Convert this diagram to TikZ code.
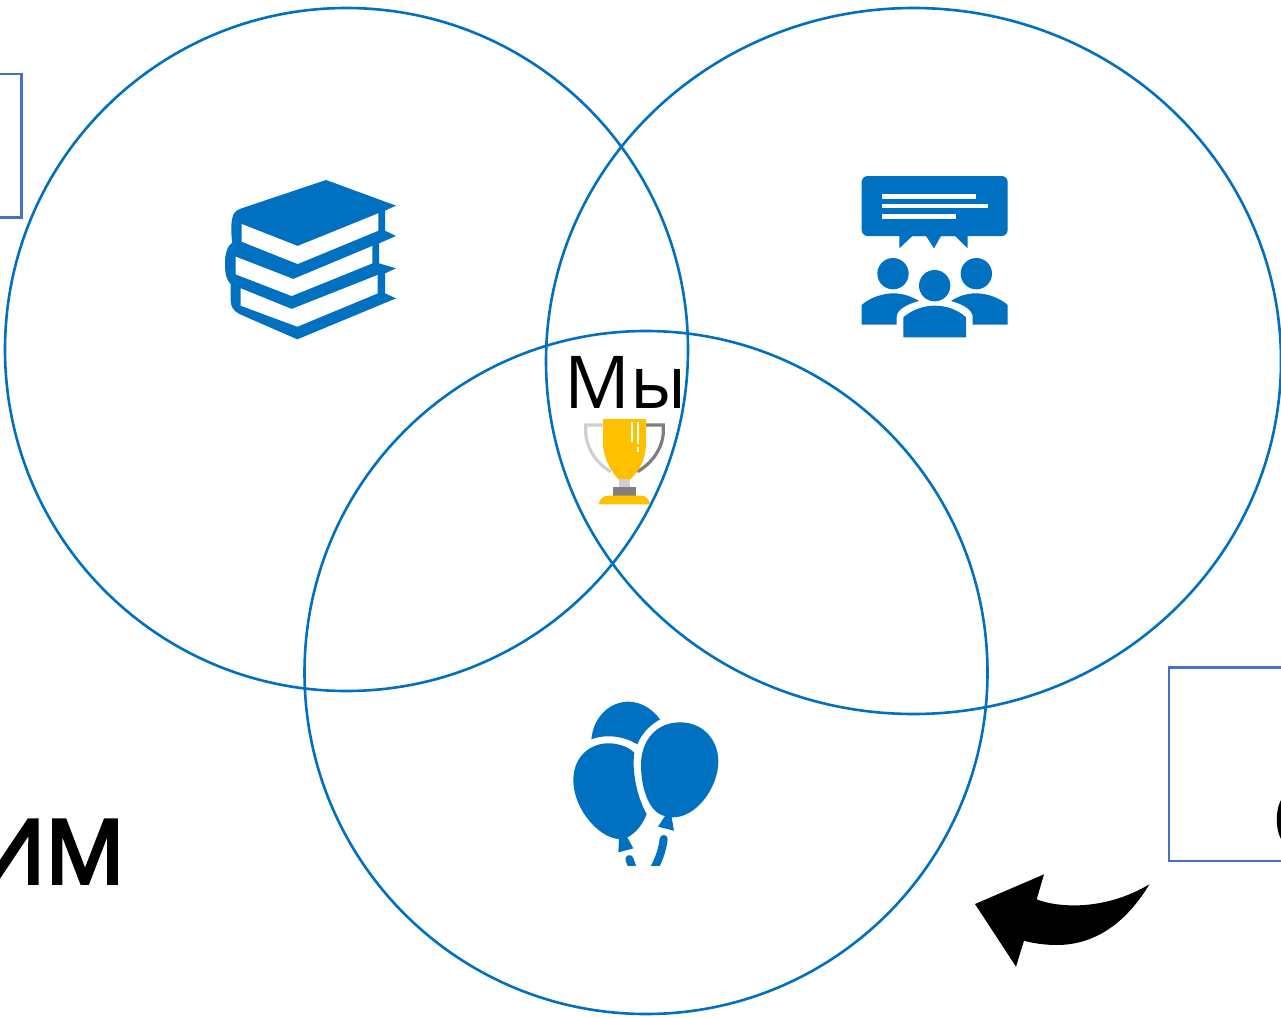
\documentclass[tikz,border=0pt]{standalone}
\usepackage{fontspec}
\setmainfont{Open Sans}
\newfontfamily\heavyword[FakeBold=4]{Open Sans}
\definecolor{vennblue}{HTML}{0070C0}
\definecolor{boxblue}{HTML}{4472C4}
\definecolor{cupgold}{HTML}{FFC000}
\definecolor{lightgr}{HTML}{D0D0D0}
\definecolor{darkgr}{HTML}{7F7F7F}
\tikzset{
 vennring/.style={draw=vennblue,line width=2.6pt,fill=none},
 framebox/.style={draw=boxblue,line width=2.8pt,fill=none},
 iconfill/.style={fill=vennblue,draw=none},
 whitefill/.style={fill=white,draw=none},
 zoomA/.style={shift={(200,160)},scale=1/3},
 zoomB/.style={shift={(840,160)},scale=1/3},
 zoomC/.style={shift={(540,330)},scale=1/3},
 zoomD/.style={shift={(550,690)},scale=1/3},
 zoomE/.style={shift={(960,650)},scale=1/3},
 bigtext/.style={inner sep=0pt,font=\fontsize{88pt}{88pt}\heavyword,text=black},
 weare/.style={inner sep=0pt,font=\fontsize{73pt}{73pt}\selectfont,text=black}
}
\begin{document}
\begin{tikzpicture}[x=1pt,y=-1pt]
\path[use as bounding box] (0,0) rectangle (1281,1017);
\clip (0,0) rectangle (1281,1017);
\fill[white] (0,0) rectangle (1281,1017);

% frames cut by the picture edge
\draw[framebox] (-40,74) rectangle (21.5,217.5);
\draw[framebox] (1169,667.5) rectangle (1340,861);

% rings
\draw[vennring] (346.5,349.5) ellipse [x radius=341.5,y radius=341.5];
\draw[vennring] (913.5,361) ellipse [x radius=367.5,y radius=353];
\draw[vennring] (646,672.5) ellipse [x radius=341.5,y radius=341.5];

% books
\begin{scope}[zoomA]
\fill[iconfill] (378,60) -- (588,137) -- (555,152) -- (555,212) -- (588,228) -- (537,250) -- (537,310) -- (588,325) -- (555,340) -- (555,400) -- (588,415) -- (292,538) -- (118,462)
  .. controls (100,452) and (92,440) .. (92,420) -- (92,372) .. controls (80,360) and (75,345) .. (75,310) .. controls (75,280) and (82,258) .. (97,248) .. controls (92,215) and (92,180) .. (102,160) .. controls (108,152) and (115,148) .. (125,145) -- cycle;
\fill[whitefill] (125,192) -- (293,258) -- (535,160) -- (535,212) -- (293,312) -- (125,245) -- cycle;
\fill[whitefill] (107,290) -- (280,357) -- (517,258) -- (517,310) -- (275,408) -- (107,343) -- cycle;
\fill[whitefill] (122,385) -- (275,447) -- (533,345) -- (533,400) -- (292,500) -- (122,437) -- cycle;
\end{scope}

% speech and people
\begin{scope}[zoomB]
\fill[iconfill] (178,220) -- (178,265) -- (217,228) -- (258,228) -- (282,265) -- (303,228) -- (345,228) -- (383,265) -- (383,220) -- cycle;
\fill[iconfill,rounded corners=6pt] (65,48) rectangle (503,228);
\fill[whitefill] (125,102) rectangle (408,116);
\fill[whitefill] (125,133) rectangle (444,145);
\fill[whitefill] (125,163) rectangle (348,176);
\fill[iconfill] (159,341) circle [radius=47];
\fill[iconfill] (284,377) circle [radius=47];
\fill[iconfill] (409,341) circle [radius=47];
\fill[iconfill] (65,494) -- (65,435) .. controls (90,412) and (130,400) .. (160,400) .. controls (190,400) and (215,410) .. (237,423) .. controls (200,432) and (170,450) .. (170,470) -- (170,494) -- cycle;
\fill[iconfill] (503,494) -- (503,435) .. controls (478,412) and (438,400) .. (408,400) .. controls (378,400) and (353,410) .. (333,423) .. controls (368,432) and (398,450) .. (398,470) -- (398,494) -- cycle;
\fill[iconfill] (190,532) -- (190,472) .. controls (215,450) and (250,437) .. (284,437) .. controls (320,437) and (355,450) .. (378,472) -- (378,532) -- cycle;
\end{scope}

% trophy
\begin{scope}[zoomC]
\draw[lightgr,line width=3.2pt] (195,285) -- (137,285) -- (137,310) .. controls (142,360) and (170,400) .. (212,425);
\draw[darkgr,line width=3.2pt] (312,285) -- (370,285) -- (370,310) .. controls (365,360) and (335,400) .. (292,425);
\fill[lightgr] (237,445) rectangle (270,472);
\fill[darkgr] (218,472) rectangle (288,497);
\fill[cupgold] (176,523) .. controls (180,505) and (190,497) .. (205,497) -- (305,497) .. controls (318,497) and (328,510) .. (330,523) -- cycle;
\fill[cupgold] (189,267) -- (318,267) -- (318,340) .. controls (318,390) and (295,425) .. (272,447) -- (235,447) .. controls (210,420) and (189,380) .. (189,340) -- cycle;
\fill[whitefill] (274,275) rectangle (279,335);
\fill[whitefill] (291,275) rectangle (296,342);
\fill[whitefill] (291,352) rectangle (296,367);
\end{scope}

% balloons
\begin{scope}[zoomD]
\fill[iconfill] (124,148) .. controls (130,80) and (180,35) .. (235,35) .. controls (275,35) and (310,60) .. (330,88) .. controls (300,105) and (275,130) .. (262,163) .. controls (225,140) and (170,130) .. (124,148) -- cycle;
\fill[iconfill] (70,270) .. controls (70,200) and (120,160) .. (175,160) .. controls (205,160) and (235,170) .. (253,188) .. controls (245,240) and (260,320) .. (290,372) .. controls (275,410) and (255,430) .. (232,442) -- (250,475) -- (205,487) -- (207,447) .. controls (150,445) and (70,360) .. (70,270) -- cycle;
\fill[iconfill] (273,225) .. controls (273,150) and (320,97) .. (390,97) .. controls (460,97) and (505,150) .. (505,215) .. controls (505,290) and (440,385) .. (365,382) -- (372,422) -- (324,410) -- (345,378) .. controls (300,370) and (273,300) .. (273,225) -- cycle;
\begin{scope}
\clip (200,430) rectangle (380,525);
\draw[vennblue,line width=8pt,line cap=round] (341,447) .. controls (337,480) and (328,505) .. (310,540);
\draw[vennblue,line width=8pt,line cap=round] (238,507) -- (250,540);
\end{scope}
\end{scope}

% curved arrow
\begin{scope}[zoomE]
\fill[black] (45,762) -- (252,673) -- (230,748) .. controls (290,772) and (430,785) .. (568,703) .. controls (510,800) and (420,885) .. (290,885) .. controls (255,885) and (220,880) .. (192,872) -- (168,950) -- cycle;
\end{scope}

% texts
\node[weare,anchor=base] (we) at (625.5,408) {Мы};
\node[bigtext,anchor=base east] (leftword) at (125,883) {ИМ};
\node[bigtext,anchor=base west] (rightword) at (1273,851) {О};
\end{tikzpicture}
\end{document}
